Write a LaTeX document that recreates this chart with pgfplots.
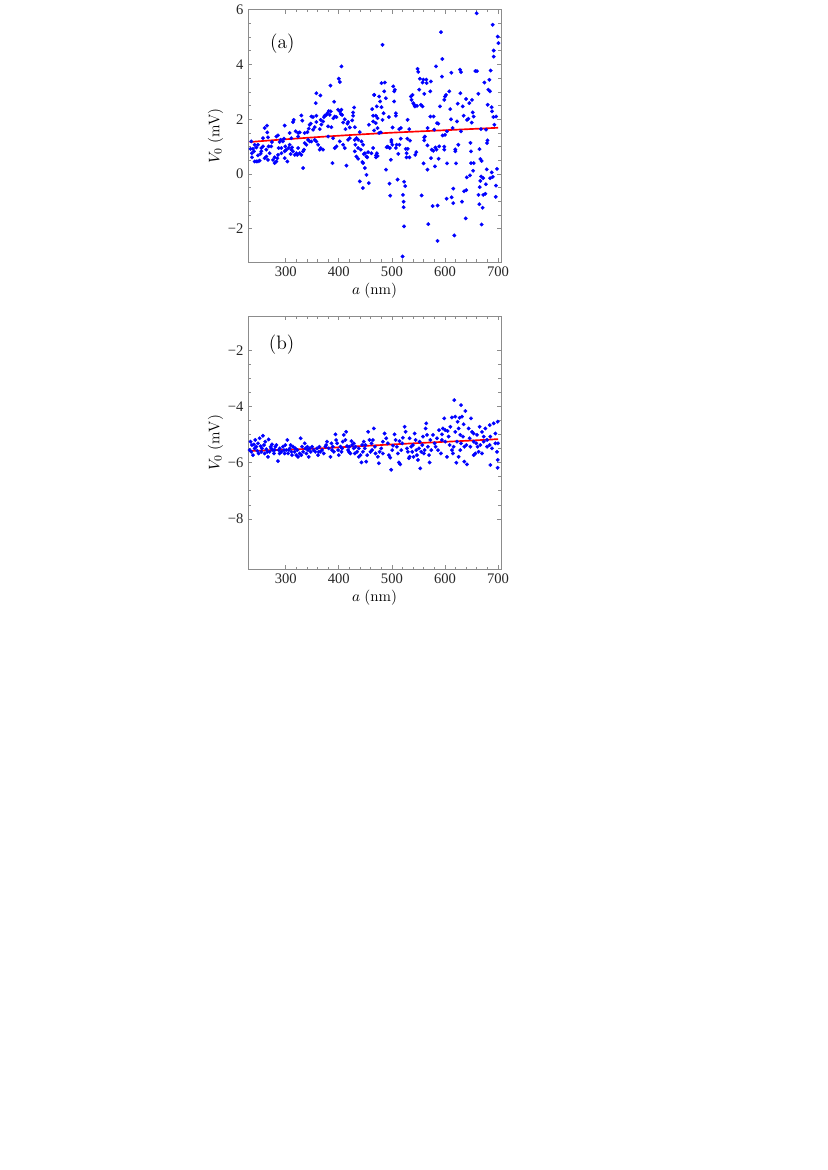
\documentclass[border=0pt]{standalone}
\usepackage{pgfplots}
\pgfplotsset{compat=1.18}
\usepackage{fontspec}
\newfontfamily\tnr{Liberation Serif}

\pgfplotsset{
  mmastyle/.style={
    scale only axis, width=181.8pt,
    axis line style={black!45, line width=0.5pt},
    tick style={black!45, line width=0.5pt},
    major tick length=3pt, minor tick length=1.8pt,
    tick align=inside,
    xtick={300,400,500,600,700},
    minor x tick num=4,
    minor y tick num=3,
    xmin=229.5, xmax=705.5,
    ticklabel style={font=\tnr\fontsize{10.5}{12}\selectfont, text=black!85},
    /pgf/number format/assume math mode=true,
    label style={font=\fontsize{11}{13}\selectfont},
    xlabel={$a\;(\mathrm{nm})$},
    ylabel={$V_0\;(\mathrm{mV})$},
    xlabel style={at={(axis description cs:0.5,-0.112)},anchor=center},
    ylabel style={at={(axis description cs:-0.13,0.5)},anchor=center},
  },
  pts/.style={only marks, mark=*, mark size=1.3pt, mark options={draw=blue, fill=blue, line width=0.2pt}},
  fit/.style={red, line width=1.2pt, smooth, no marks},
}

\begin{document}
\begin{tikzpicture}
\useasboundingbox (0,0) rectangle (595pt,-841.77pt);

% ---------------- (a) ----------------
\begin{axis}[mmastyle, height=181.5pt, at={(178.65pt,-6.98pt)}, anchor=north west,
  ymin=-3.21, ymax=6, ytick={-2,0,2,4,6}, yticklabels={−2,0,2,4,6}]
\addplot[pts] coordinates {
(233.8,0.92)(238.2,0.92)(236.3,0.76)(240.1,0.83)(236.3,0.61)(241.4,0.46)(244.5,0.46)(247.7,0.46)(250.8,0.49)(247.7,0.68)
(252.7,0.74)(244.5,0.97)(247.7,1.07)(254,0.95)(257.1,1.01)(260.3,0.58)(263.4,0.64)(263.4,0.89)(267.8,1.01)(269.7,0.76)
(272.8,1.01)(274.1,1.17)(276,0.52)(279.1,0.40)(282.3,0.46)(284.2,0.58)(285.4,0.70)(286.7,0.95)(288.6,1.17)(290.4,1.25)
(291.7,0.95)(291.7,0.76)(294.8,1.19)(296.7,1.29)(298,0.83)(299.2,1.01)(301.1,0.89)(303,0.46)(305.5,0.95)(307.4,1.07)
(310.6,0.89)(309.3,0.73)(311.8,0.97)(313.7,0.83)(316.9,0.70)(320,0.76)(321.9,0.70)(323.2,0.95)(326.3,0.76)(329.4,0.70)
(332.6,0.83)(334.5,0.89)(335.7,1.13)(338.9,1.07)(342,1.25)(345.2,1.19)(348.3,1.19)(354.6,1.25)(357.7,1.19)(360.9,1.07)
(364,0.89)(365.9,0.95)(370.3,0.89)(379.8,1.37)(389.2,1.31)(392.3,0.95)(395.5,1.01)(401.8,1.19)(408.1,1.07)(411.2,0.95)
(417.5,1.25)(420.6,1.31)(430.1,1.25)(433.2,1.31)(436.4,1.25)(442.7,1.19)(445.8,1.07)(449,0.76)(452.1,0.64)(430.1,0.83)
(433.2,0.64)(436.4,0.95)(298,0.58)(279.1,0.61)(266.5,0.52)(254,0.83)(241.4,1.07)(235.1,1.19)(257.1,1.31)(266.5,1.34)
(282.3,1.37)(310.6,1.31)(323.2,1.37)
(332.6,0.22)(414.4,0.31)(388,0.40)(436.4,0.56)(445.8,0.40)(439.5,-0.27)(445.2,-0.51)(452.1,-0.03)(456.5,-0.33)(449,0.22)
(444.5,0.44)(453.4,0.61)(455.2,0.80)(447.1,0.73)(441.4,0.89)(431.3,1.07)(464.7,0.95)(461.5,0.76)
(404.9,3.93)(399.9,3.48)(401.8,3.36)(384.2,3.23)(357.7,2.95)(365.3,2.87)(356.5,2.59)(391.1,2.64)(260.3,1.68)(264.7,1.77)
(265.3,1.52)(285.4,1.41)(298,1.77)(307.4,1.50)(313.7,1.90)(315,1.98)(318.7,1.56)(323.2,1.50)(326.3,1.52)(329.4,2.14)
(331.3,1.95)(335.7,1.50)(340.8,1.53)(343.3,1.66)(345.2,1.80)(347.1,1.84)(348.3,2.10)(351.5,2.08)(351.5,1.62)(354.6,1.71)
(357.7,2.13)(357.7,1.90)(364,1.64)(365.9,1.98)(367.2,1.81)(370.3,1.92)(372.2,2.08)(373.5,2.13)(376.6,2.16)(378.5,2.22)
(379.8,1.74)(381,2.30)(382.9,2.16)(384.8,2.29)(386.1,1.71)(389.8,2.04)(392.3,2.10)(395.5,2.08)(398.6,2.35)(401.8,2.29)
(403.7,2.20)(404.9,2.35)(406.2,2.16)(408.1,1.88)(411.2,2.00)(412.5,1.64)(416.2,1.84)(417.5,1.90)(420.6,1.70)(425.1,1.96)
(426.9,2.13)(428.8,2.43)(430.1,1.71)(426.9,2.25)(439.5,1.53)(456.5,1.80)(462.8,2.37)(464.7,2.13)(464.7,1.92)(466.6,2.89)
(659.7,5.87)(689.9,5.45)(699.3,5.02)(700.6,4.78)(691.8,4.51)(691.8,4.29)(592.4,5.18)(594.9,4.20)(482.3,4.72)(583,3.93)
(548.4,3.84)(549.6,3.73)(611.9,3.70)(628.3,3.81)(630.1,3.72)(657.2,3.76)(660.3,3.76)(686.1,3.78)(552.8,3.48)(559.1,3.45)
(564.7,3.45)(557.8,3.34)(565.4,3.32)(573.5,3.38)(594.3,3.56)(674.2,3.34)(683.6,3.44)(480.4,3.32)(486.7,3.34)(502.5,3.20)
(505.6,3.08)(466.6,2.89)(485.5,3.02)(504.3,3.02)(488.6,2.77)(476,2.83)(477.9,2.65)(471.6,2.47)(480.4,2.44)(484.2,2.22)
(469.7,2.13)(472.9,2.04)(482.3,1.98)(466.6,1.59)(476,1.50)(479.2,1.52)(494.3,2.08)(501.2,1.70)(507.5,2.22)(507.5,2.13)
(504.3,2.65)(513.8,1.64)(516.9,1.68)(529.5,1.98)(532.6,1.64)(535.8,2.83)(537,2.71)(538.9,2.89)(540.2,2.59)(542.1,2.53)
(543.3,2.47)(547.1,2.49)(551.5,3.08)(561,2.93)(554.7,2.53)(557.8,2.47)(567.2,1.68)(572.3,2.10)(578.6,2.10)(572.3,3.02)
(584.9,1.86)(587.4,1.84)(590.5,2.47)(598.7,2.71)(600,2.83)(601.8,2.89)(608.1,3.02)(610,2.37)(611.3,2.00)(614.4,1.68)
(622.6,1.92)(623.9,2.57)(628.9,2.95)(633.3,2.47)(635.2,2.13)(639.6,2.74)(641.5,1.98)(644,2.02)(645.9,2.59)(650.9,2.71)
(650.3,1.88)(652.2,2.25)(654.1,2.10)(662.8,2.93)(667.9,1.64)(681.7,3.08)(684.9,3.02)(680.5,2.53)(688,2.44)(688.6,2.29)
(691.2,2.08)(693,1.80)(696.2,2.10)(469.7,1.86)(472.9,1.68)(603.7,1.56)(579.8,1.62)(630.1,1.56)(677.3,1.62)
(520,-3.01)(586,-2.44)(617.6,-2.24)(523,-1.91)(568.5,-1.83)(669,-1.84)(639,-1.62)(522,-1.21)(522,-1.01)(521,-0.76)
(496.8,-0.79)(495.5,-0.35)(510.6,-0.20)(523,-0.28)(525,-0.44)(556,-0.78)(576.7,-1.17)(586,-1.15)(603,-0.90)(612.5,-0.85)
(615.6,-1.06)(615.6,-0.53)(632,-1.01)(636,-0.63)(640,-0.59)(663,-0.76)(664.7,-1.10)(671,-1.23)(672,-0.76)(676,-0.72)
(695.6,-0.83)(696,-0.42)(665.4,-0.48)(666.6,-0.25)(677,-0.37)(668,-0.09)(672,-0.15)(685,-0.15)(690,-0.10)(698,0.19)
(688,0.06)(641,-0.12)(647,-0.05)(653,0.12)(678.6,0.17)(489,0.16)(581,0.28)(567,0.16)(559.7,0.39)(603.7,0.39)
(620.7,0.39)(649,0.40)(654,0.40)(666.6,0.55)(669,0.48)(471.6,0.76)(473,0.66)(498,0.52)(512,0.74)(527.6,0.76)
(527.6,0.61)(533,0.61)(544,0.70)(573.5,0.58)(588,0.56)(575,0.89)(567,1.05)(561,1.23)(561,1.34)(598.7,1.00)
(598.7,0.89)(619.5,0.90)(619.5,0.83)(625,1.07)(648,1.14)(649,0.83)(665,0.91)(680,1.23)(679,1.13)(582,0.97)
(584,0.89)(589,1.01)(578,0.85)(546,0.80)(492,1.00)(496,0.95)(490,0.98)(499,1.24)(499,1.17)(516.7,1.29)
(529,1.29)(534,1.22)(509,1.07)(514,1.07)(507.5,0.95)(501,1.07)(526,0.92)(530,0.92)(562,1.37)(595.5,1.41)
(600,1.43)(470,0.68)(470,0.61)
};
\addplot[fit] coordinates {(232,1.17)(300,1.27)(400,1.40)(500,1.51)(600,1.60)(700,1.69)};
\node[font=\fontsize{14}{16}\selectfont] at (rel axis cs:0.135,0.867) {(a)};
\end{axis}

% ---------------- (b) ----------------
\begin{axis}[mmastyle, height=182.2pt, at={(178.65pt,-227.35pt)}, anchor=north west,
  ymin=-9.79, ymax=-0.78, ytick={-8,-6,-4,-2}, yticklabels={−8,−6,−4,−2}]
\addplot[pts] coordinates {
(233.8,-5.25)(236.3,-5.37)(240.1,-5.35)(241.4,-5.49)(244.5,-5.43)(242.6,-5.19)(247.7,-5.31)(250.8,-5.13)(252.7,-5.41)(257.1,-5.04)
(255.2,-5.49)(259,-5.37)(261.5,-5.25)(263.4,-5.52)(265.3,-5.61)(267.8,-5.17)(266.5,-5.79)(271.6,-5.43)(274.1,-5.35)(276,-5.55)
(277.9,-5.67)(280.4,-5.43)(282.3,-5.37)(285.4,-5.94)(286.7,-5.55)(288.6,-5.49)(291.7,-5.61)(294.8,-5.43)(296.7,-5.55)(299.2,-5.37)
(301.1,-5.55)(303,-5.19)(304.3,-5.67)(307.4,-5.49)(309.3,-5.37)(310.6,-5.61)(313.7,-5.43)(316.9,-5.61)(320,-5.73)(321.9,-5.55)
(323.2,-5.79)(326.3,-5.67)(328.2,-5.13)(329.4,-5.73)(332.6,-5.61)(335.7,-5.31)(337,-5.49)(338.9,-5.67)(342,-5.55)(343.3,-5.79)
(345.2,-5.49)(347.1,-5.61)(232,-5.55)(235.1,-5.61)(238.2,-5.73)(246.4,-5.58)(248.9,-5.67)(254,-5.61)(260.3,-5.67)(269.7,-5.61)
(272.8,-5.49)(279.1,-5.55)(288.6,-5.67)(298,-5.67)(305.5,-5.55)(311.8,-5.73)(318.1,-5.49)(330.7,-5.43)(340.8,-5.43)
(352.7,-5.55)(355.9,-5.61)(359,-5.49)(360.9,-5.73)(363.4,-5.43)(365.3,-5.61)(368.5,-5.55)(371.6,-5.67)(374.8,-5.43)(376,-5.37)
(377.9,-5.25)(381.1,-5.49)(384.2,-5.79)(386.1,-5.31)(388.6,-5.43)(390.5,-5.61)(393.6,-4.99)(394.9,-5.19)(396.8,-5.31)(398.7,-5.55)
(399.9,-5.73)(403.1,-5.43)(405,-5.61)(407.5,-5.25)(409.4,-5.01)(412.5,-5.19)(413.8,-4.90)(415.6,-5.41)(417.5,-5.55)(420,-5.43)
(421.9,-5.67)(423.8,-5.23)(425.1,-5.37)(428.2,-5.49)(430.1,-5.67)(431.4,-5.43)(434.5,-5.61)(437.7,-5.49)(440.8,-5.73)(442.7,-5.99)
(443.9,-5.37)(445.2,-5.61)(447.1,-5.25)(449,-5.49)(451.5,-5.96)(453.4,-5.73)(455.3,-4.90)(457.8,-5.19)(459.7,-5.61)(461.6,-5.31)
(462.8,-5.55)(464.1,-5.19)(466,-4.78)(467.9,-5.43)(469.1,-5.67)(349.6,-5.43)(362.2,-5.61)(387.3,-5.55)(406.2,-5.49)(418.8,-5.61)
(437.7,-5.79)(450.2,-5.37)(428.2,-5.31)
(473.5,-5.79)(475.4,-6.02)(476.7,-5.61)(479.8,-5.49)(483,-5.25)(486.1,-4.96)(489.3,-5.13)(492.4,-5.31)(494.3,-5.73)(496.8,-5.82)
(498.7,-6.25)(500.6,-5.55)(501.9,-5.39)(505,-4.99)(506.9,-5.19)(509.4,-5.43)(511.3,-5.67)(513.2,-5.99)(515.7,-6.06)(517.6,-5.55)
(519.5,-5.31)(520.7,-5.11)(523.9,-4.72)(525.8,-4.90)(528.3,-5.49)(530.2,-5.61)(532,-5.84)(533.3,-5.13)(536.4,-5.43)(538.3,-5.61)
(539.6,-5.37)(542.7,-4.96)(544.6,-5.19)(545.9,-5.55)(547.1,-5.73)(549,-5.90)(550.9,-5.49)(552.2,-5.25)(555.3,-5.61)(557.2,-5.37)
(558.5,-5.07)(561.6,-5.55)(563.5,-4.78)(564.8,-4.60)(566,-5.01)(567.9,-5.43)(569.8,-5.73)(571,-5.99)(572.3,-5.19)(574.2,-5.55)
(577.3,-5.01)(580.5,-5.31)(582.4,-5.43)(584.9,-5.13)(586.8,-5.55)(588.7,-4.84)(553.4,-6.20)(533.3,-5.79)(514.4,-5.23)(483,-5.67)
(540.8,-5.79)(560.3,-5.67)
(617.5,-3.77)(630.1,-3.95)(638.3,-4.16)(632,-4.36)(627.6,-4.40)(619.4,-4.36)(613.1,-4.39)(598.6,-4.42)(649,-4.42)(623.8,-4.54)
(635.1,-4.63)(625.7,-4.78)(610,-4.72)(596.1,-4.78)(600.5,-4.84)(604.9,-4.87)(594.2,-4.99)(619.4,-4.90)(628.8,-5.01)(633.9,-5.07)
(644.6,-4.78)(650.9,-4.90)(654,-4.96)(660.3,-5.01)(665.3,-4.72)(669.7,-4.90)(676,-4.78)(684.2,-4.66)(691.7,-4.60)(699.3,-4.54)
(685.4,-5.07)(679.2,-5.19)(672.9,-5.25)(666.6,-5.37)(659,-5.31)(654,-5.25)(646.5,-5.13)(640.2,-5.37)(636.4,-5.43)(630.1,-5.31)
(622.6,-5.25)(616.3,-5.43)(613.1,-5.55)(608.7,-5.37)(600.5,-5.25)(594.2,-5.19)(592.4,-5.67)(603.7,-5.79)(615,-5.67)(625.7,-5.79)
(636.4,-5.96)(641.4,-6.06)(621.3,-6.00)(654,-5.73)(657.1,-5.67)(663.4,-5.61)(669.7,-5.67)(679.2,-5.43)(684.2,-5.37)(688.6,-5.49)
(694.9,-5.31)(698,-5.61)(700,-5.31)(685.4,-6.08)(699.3,-5.90)(694.9,-4.96)(672.9,-5.07)(647.7,-5.43)(628.8,-5.55)(661.5,-5.43)
(606.8,-5.07)(699,-6.18)
};
\addplot[fit] coordinates {(232,-5.58)(350,-5.50)(450,-5.40)(550,-5.30)(650,-5.21)(700,-5.16)};
\node[font=\fontsize{14}{16}\selectfont] at (rel axis cs:0.132,0.888) {(b)};
\end{axis}
\end{tikzpicture}
\end{document}
